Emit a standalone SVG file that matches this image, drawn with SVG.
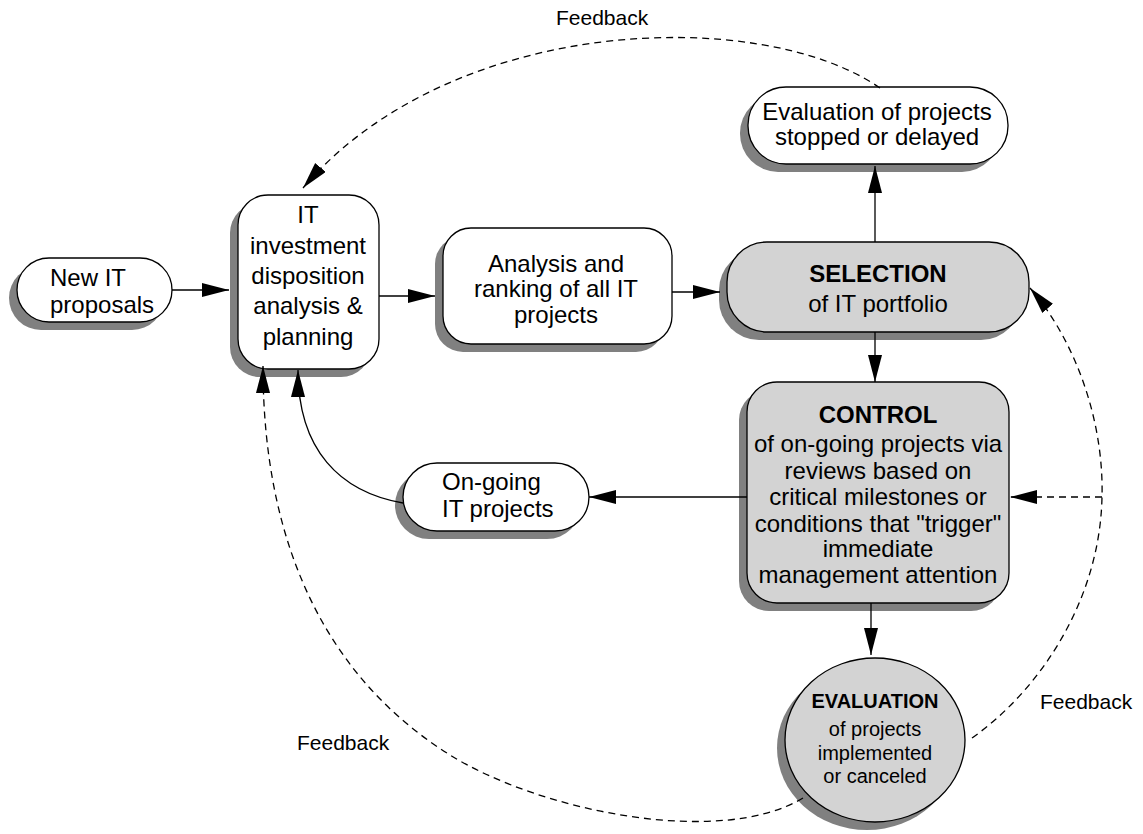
<svg xmlns="http://www.w3.org/2000/svg" width="1143" height="834" viewBox="0 0 1143 834">
<style>
.sh{fill:#808080}
.box{fill:#fff;stroke:#000;stroke-width:1.3}
.gray{fill:#d3d3d3}
.t{font-family:"Liberation Sans",Arial,sans-serif;font-size:24px;fill:#000}
.c{text-anchor:middle}
.b{font-weight:bold}
.sm{font-size:20px}
.fb{font-family:"Liberation Sans",Arial,sans-serif;font-size:21px;fill:#000}
.edge{fill:none;stroke:#000;stroke-width:1.3}
.dash{stroke-dasharray:7 5}
</style>
<defs>
<marker id="ah" markerUnits="userSpaceOnUse" markerWidth="28" markerHeight="16" refX="27" refY="7" orient="auto">
<path d="M0,0 L27,7 L0,14 z" fill="#000"/>
</marker>
</defs>
<rect width="1143" height="834" fill="#fff"/>

<g id="new-proposals">
<rect class="sh" x="9" y="266" width="155" height="64" rx="32"/>
<rect class="box" x="17" y="258" width="155" height="64" rx="32"/>
<text class="t" x="50" y="286">New IT</text>
<text class="t" x="50" y="313">proposals</text>
</g>

<g id="it-investment">
<rect class="sh" x="230" y="203" width="141" height="174" rx="30"/>
<rect class="box" x="238" y="195" width="141" height="174" rx="30"/>
<text class="t c" x="308" y="223">IT</text>
<text class="t c" x="308" y="254">investment</text>
<text class="t c" x="308" y="284">disposition</text>
<text class="t c" x="308" y="314">analysis &amp;</text>
<text class="t c" x="308" y="345">planning</text>
</g>

<g id="analysis">
<rect class="sh" x="435" y="236" width="229" height="116" rx="28"/>
<rect class="box" x="443" y="228" width="229" height="116" rx="28"/>
<text class="t c" x="556" y="272">Analysis and</text>
<text class="t c" x="556" y="297">ranking of all IT</text>
<text class="t c" x="556" y="323">projects</text>
</g>

<g id="selection">
<rect class="sh" x="719" y="250" width="302" height="90" rx="40"/>
<rect class="box gray" x="727" y="242" width="302" height="90" rx="40"/>
<text class="t c b" x="878" y="282">SELECTION</text>
<text class="t c" x="878" y="312">of IT portfolio</text>
</g>

<g id="eval-stopped">
<rect class="sh" x="740" y="95" width="260" height="77" rx="38"/>
<rect class="box" x="748" y="87" width="260" height="77" rx="38"/>
<text class="t c" x="877" y="120">Evaluation of projects</text>
<text class="t c" x="877" y="145">stopped or delayed</text>
</g>

<g id="control">
<rect class="sh" x="739" y="390" width="262" height="221" rx="30"/>
<rect class="box gray" x="747" y="382" width="262" height="221" rx="30"/>
<text class="t c b" x="878" y="423">CONTROL</text>
<text class="t c" x="878" y="452">of on-going projects via</text>
<text class="t c" x="878" y="479">reviews based on</text>
<text class="t c" x="878" y="505">critical milestones or</text>
<text class="t c" x="878" y="532">conditions that "trigger"</text>
<text class="t c" x="878" y="557">immediate</text>
<text class="t c" x="878" y="583">management attention</text>
</g>

<g id="ongoing">
<rect class="sh" x="395" y="471" width="186" height="68" rx="34"/>
<rect class="box" x="403" y="463" width="186" height="68" rx="34"/>
<text class="t" x="442" y="490">On-going</text>
<text class="t" x="442" y="517">IT projects</text>
</g>

<g id="evaluation">
<ellipse class="sh" cx="867" cy="748" rx="90" ry="82"/>
<ellipse class="box gray" cx="875" cy="740" rx="90" ry="82"/>
<text class="t c b sm" x="875" y="708">EVALUATION</text>
<text class="t c sm" x="875" y="736">of projects</text>
<text class="t c sm" x="875" y="760">implemented</text>
<text class="t c sm" x="875" y="783">or canceled</text>
</g>

<g id="connectors">
<path class="edge" d="M172,290 L229,290" marker-end="url(#ah)"/>
<path class="edge" d="M379,296 L435,296" marker-end="url(#ah)"/>
<path class="edge" d="M672,292 L720,292" marker-end="url(#ah)"/>
<path class="edge" d="M875,242 L875,166" marker-end="url(#ah)"/>
<path class="edge" d="M875,332 L875,382" marker-end="url(#ah)"/>
<path class="edge" d="M747,497 L589,497" marker-end="url(#ah)"/>
<path class="edge" d="M871,603 L871,655" marker-end="url(#ah)"/>
<path class="edge" d="M403,503 C340,492 298,450 298,370" marker-end="url(#ah)"/>
<path class="edge dash" d="M880,88 C760,5 450,15 303,188" marker-end="url(#ah)"/>
<path class="edge dash" d="M803,798 C720,848 540,811 450,755 C330,680 263,550 263,366" marker-end="url(#ah)"/>
<path class="edge dash" d="M972,738 C1040,690 1100,600 1102,497 C1104,420 1075,340 1030,288" marker-end="url(#ah)"/>
<path class="edge dash" d="M1102,497 L1010,497" marker-end="url(#ah)"/>
</g>

<g id="labels">
<text class="fb" x="556" y="25">Feedback</text>
<text class="fb" x="1040" y="709">Feedback</text>
<text class="fb" x="297" y="750">Feedback</text>
</g>
</svg>
